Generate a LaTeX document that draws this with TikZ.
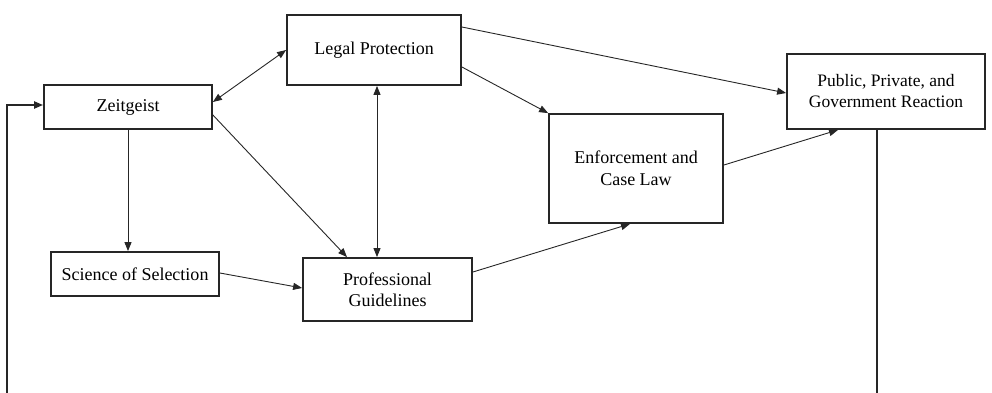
\documentclass[tikz,border=0pt]{standalone}
\usepackage{fontspec}
\setmainfont{Liberation Serif}
\usetikzlibrary{arrows.meta}
\begin{document}
\begin{tikzpicture}[x=1pt,y=-1pt,
  box/.style={draw=black!85,line width=1.8pt,align=center,inner sep=0pt,
    font=\fontsize{18}{21.5}\selectfont},
  conn/.style={line width=0.9pt,black!85,-{Triangle[length=9pt,width=7pt]}},
  both/.style={line width=0.9pt,black!85,{Triangle[length=9pt,width=7pt]}-{Triangle[length=9pt,width=7pt]}},
  feed/.style={line width=2pt,black!85}]
\useasboundingbox (0,0) rectangle (992,393);
\node[box,minimum width=168pt,minimum height=44pt] (zg) at (128,107) {Zeitgeist};
\node[box,minimum width=174pt,minimum height=70pt] (lp) at (374,50) {Legal Protection};
\node[box,minimum width=198pt,minimum height=75pt,font=\fontsize{17.5}{21}\selectfont] (pub) at (886,91.5) {Public, Private, and\\Government Reaction};
\node[box,minimum width=168pt,minimum height=44pt] (sos) at (135,274) {Science of Selection};
\node[box,minimum width=169pt,minimum height=63pt] (pg) at (387.5,289.5) {Professional\\Guidelines};
\node[box,minimum width=174pt,minimum height=109pt] (ecl) at (636,168.5) {Enforcement and\\Case Law};
\coordinate (fb) at (7,393);
\coordinate (rb) at (877,393);
\draw[both] ([yshift=5pt]zg.east) -- (lp.west);
\draw[conn] ([yshift=-8pt]zg.east) -- ([xshift=-40.5pt]pg.north);
\draw[both] ([xshift=3pt]lp.south) -- ([xshift=-10.5pt]pg.north);
\draw[conn] (zg.south) -- (zg.south |- sos.north);
\draw[conn] ([yshift=1pt]sos.east) -- ([yshift=1.5pt]pg.west);
\draw[conn] ([yshift=17.5pt]pg.east) -- ([xshift=-6pt]ecl.south);
\draw[conn] ([yshift=-17pt]lp.east) -- (ecl.north west);
\draw[conn] ([yshift=23pt]lp.east) -- ([yshift=-1.5pt]pub.west);
\draw[conn] ([yshift=3.5pt]ecl.east) -- ([xshift=-48pt]pub.south);
\draw[feed,-{Triangle[length=9pt,width=7pt]}] (fb) |- ([yshift=2pt]zg.west);
\draw[feed] ([xshift=-9pt]pub.south) -- (rb);
\end{tikzpicture}
\end{document}
